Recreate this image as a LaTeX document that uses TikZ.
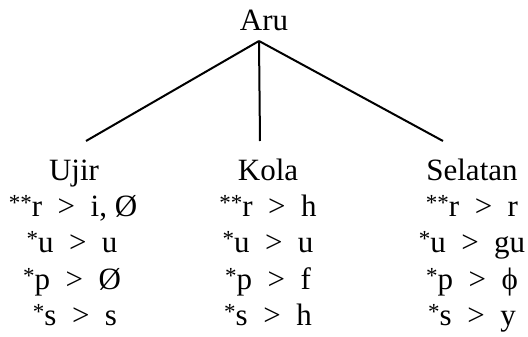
\documentclass[tikz,border=0pt]{standalone}
\usepackage{fontspec}
\setmainfont{Liberation Serif}
\usetikzlibrary{positioning}
\newcommand{\gt}{\enspace>\enspace}
\newcommand{\pstar}[1]{\raisebox{6pt}{\fontsize{23}{23}\selectfont #1}}
\begin{document}
\begin{tikzpicture}[x=1pt,y=1pt]
    \tikzstyle{lang}=[font=\fontsize{31}{36}\selectfont,inner sep=0pt,anchor=base]
    \tikzstyle{branch}=[line width=2pt]
    \useasboundingbox (0,0) rectangle (528,-337);

    \node[lang] (aru) at (264,-31) {Aru};
    \coordinate (apex) at (259,-41);

    % Ujir
    \node[lang] (ujir) at (74,-180) {Ujir};
    \node[lang] (ujirr) at (73,-216) {\pstar{**}r\gt i, Ø};
    \node[lang] (ujiru) at (72,-252) {\pstar{*}u\gt u};
    \node[lang] (ujirp) at (72,-289) {\pstar{*}p\gt Ø};
    \node[lang] (ujirs) at (75,-325) {\pstar{*}s\gt s};

    % Kola
    \node[lang] (kola) at (268,-180) {Kola};
    \node[lang] (kolar) at (268,-216) {\pstar{**}r\gt h};
    \node[lang] (kolau) at (268,-252) {\pstar{*}u\gt u};
    \node[lang] (kolap) at (268,-289) {\pstar{*}p\gt f};
    \node[lang] (kolas) at (268,-325) {\pstar{*}s\gt h};

    % Selatan
    \node[lang] (selatan) at (472,-180) {Selatan};
    \node[lang] (selatanr) at (472,-216) {\pstar{**}r\gt r};
    \node[lang] (selatanu) at (472,-252) {\pstar{*}u\gt gu};
    \node[lang] (selatanp) at (472,-289) {\pstar{*}p\gt ϕ};
    \node[lang] (selatans) at (472,-325) {\pstar{*}s\gt y};

    \coordinate (ujirtop) at (86,-141);
    \coordinate (kolatop) at (260,-141);
    \coordinate (selatantop) at (443,-141);

    \draw[branch] (apex) -- (ujirtop);
    \draw[branch] (apex) -- (kolatop);
    \draw[branch] (apex) -- (selatantop);
\end{tikzpicture}
\end{document}
